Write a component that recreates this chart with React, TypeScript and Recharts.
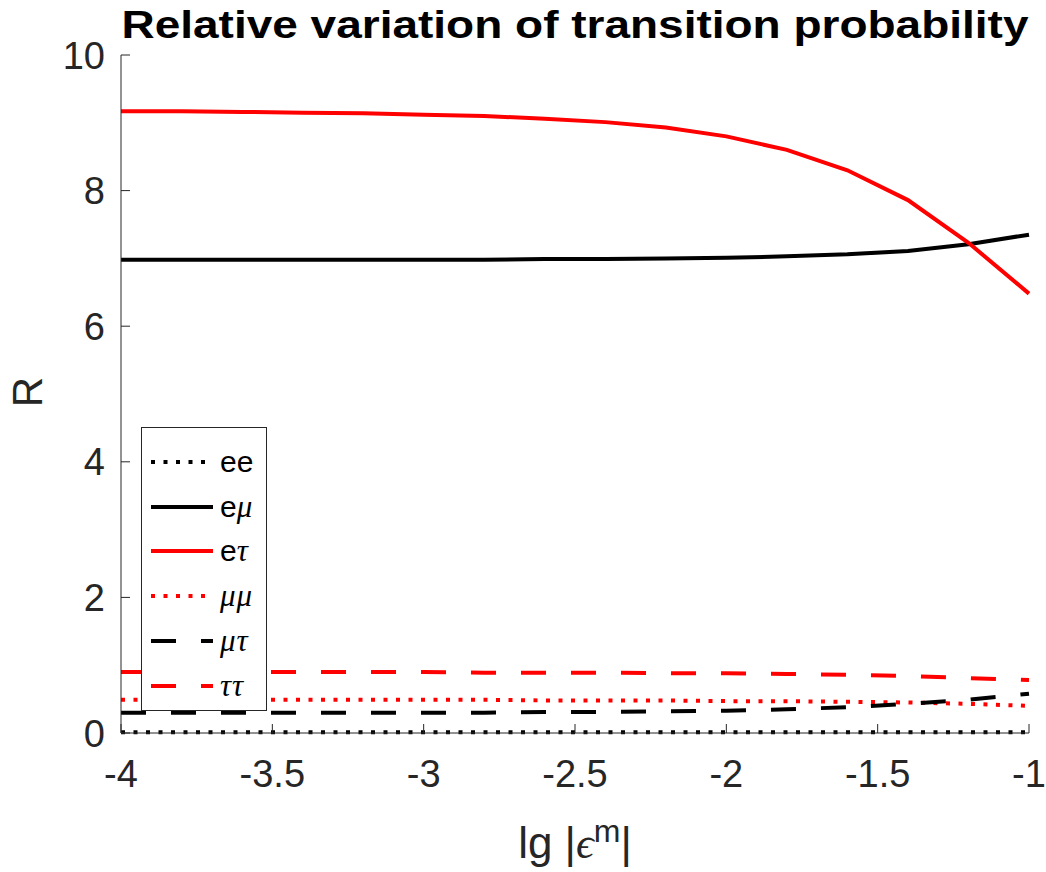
import { LineChart, Line, XAxis, YAxis, Legend } from "recharts";

// lg|eps^m| sample points
const xValues = [-4, -3.8, -3.6, -3.4, -3.2, -3, -2.8, -2.6, -2.4, -2.2, -2, -1.8, -1.6, -1.4, -1.2, -1];

// R for each channel
const ee = [0.01, 0.01, 0.01, 0.01, 0.01, 0.01, 0.01, 0.01, 0.01, 0.01, 0.01, 0.01, 0.01, 0.01, 0.01, 0.01];
const eMu = [6.98, 6.98, 6.98, 6.98, 6.98, 6.98, 6.98, 6.99, 6.99, 7.0, 7.01, 7.03, 7.06, 7.11, 7.21, 7.35];
const eTau = [9.17, 9.17, 9.16, 9.15, 9.14, 9.12, 9.1, 9.06, 9.01, 8.93, 8.8, 8.6, 8.3, 7.86, 7.23, 6.48];
const muMu = [0.49, 0.49, 0.49, 0.49, 0.49, 0.49, 0.49, 0.48, 0.48, 0.48, 0.47, 0.47, 0.46, 0.45, 0.43, 0.4];
const muTau = [0.3, 0.3, 0.3, 0.3, 0.3, 0.3, 0.3, 0.31, 0.31, 0.32, 0.33, 0.35, 0.38, 0.43, 0.49, 0.58];
const tauTau = [0.9, 0.9, 0.9, 0.9, 0.9, 0.9, 0.89, 0.89, 0.89, 0.88, 0.88, 0.87, 0.86, 0.84, 0.81, 0.78];

const xTicks = [-4, -3.5, -3, -2.5, -2, -1.5, -1];
const yTicks = [0, 2, 4, 6, 8, 10];

const DOT = "4 8.5";
const DASH = "25 25";

const series = [
  { key: "ee", pre: "ee", greek: "", color: "#000000", dash: DOT },
  { key: "eMu", pre: "e", greek: "μ", color: "#000000", dash: undefined },
  { key: "eTau", pre: "e", greek: "τ", color: "#ff0000", dash: undefined },
  { key: "muMu", pre: "", greek: "μμ", color: "#ff0000", dash: DOT },
  { key: "muTau", pre: "", greek: "μτ", color: "#000000", dash: DASH },
  { key: "tauTau", pre: "", greek: "ττ", color: "#ff0000", dash: DASH },
];

const data = xValues.map((x, i) => ({
  x,
  ee: ee[i],
  eMu: eMu[i],
  eTau: eTau[i],
  muMu: muMu[i],
  muTau: muTau[i],
  tauTau: tauTau[i],
}));

const SANS = "'Liberation Sans', Arial, Helvetica, sans-serif";
const SERIF = "'Liberation Serif', 'DejaVu Serif', serif";
const AXIS = "#262626";
const TICK_FONT = 38;

const YTick = (props: any) => {
  const { x, y, payload } = props;
  return (
    <g>
      <line x1={x} x2={x + 9} y1={y} y2={y} stroke={AXIS} strokeWidth={1} />
      <text x={x - 16} y={y} dy="0.36em" textAnchor="end" fill={AXIS} fontSize={TICK_FONT} fontFamily={SANS}>
        {payload.value}
      </text>
    </g>
  );
};

const XTick = (props: any) => {
  const { x, y, payload } = props;
  return (
    <g>
      <line x1={x} x2={x} y1={y} y2={y - 9} stroke={AXIS} strokeWidth={1} />
      <text x={x} y={y + 54} textAnchor="middle" fill={AXIS} fontSize={TICK_FONT} fontFamily={SANS}>
        {payload.value}
      </text>
    </g>
  );
};

function LegendBox() {
  return (
    <div
      style={{
        width: 124,
        height: 282,
        border: "1px solid #262626",
        background: "#fff",
        position: "relative",
      }}
    >
      {series.map((s, i) => {
        const cy = 34 + i * 44.7;
        return (
          <div key={s.key} style={{ position: "absolute", left: 0, top: cy - 20, height: 40, width: 124 }}>
            <svg width={72} height={40} style={{ position: "absolute", left: 0, top: 0 }}>
              <line x1={9} x2={71} y1={20} y2={20} stroke={s.color} strokeWidth={4} strokeDasharray={s.dash} />
            </svg>
            <div
              style={{
                position: "absolute",
                left: 78,
                top: 0,
                lineHeight: "40px",
                fontSize: 30,
                fontFamily: SANS,
                color: "#000",
                whiteSpace: "nowrap",
              }}
            >
              {s.pre}
              <span style={{ fontFamily: SERIF, fontStyle: "italic", fontSize: 31, letterSpacing: 1 }}>{s.greek}</span>
            </div>
          </div>
        );
      })}
    </div>
  );
}

export default function App() {
  return (
    <div style={{ position: "absolute", left: 0, top: 0, width: 1046, height: 872, background: "#fff" }}>
      <LineChart
        width={1046}
        height={872}
        data={data}
        margin={{ top: 55, right: 17, bottom: 138, left: 120 }}
      >
        <XAxis
          dataKey="x"
          type="number"
          domain={[-4, -1]}
          ticks={xTicks}
          height={1}
          tickSize={0}
          tickMargin={0}
          tickLine={false}
          stroke={AXIS}
          tick={<XTick />}
          interval={0}
        />
        <YAxis
          type="number"
          domain={[0, 10]}
          ticks={yTicks}
          width={1}
          tickSize={0}
          tickMargin={0}
          tickLine={false}
          stroke={AXIS}
          tick={<YTick />}
          interval={0}
        />
        {series.map((s) => (
          <Line
            key={s.key}
            dataKey={s.key}
            type="linear"
            stroke={s.color}
            strokeWidth={4}
            strokeDasharray={s.dash}
            dot={false}
            activeDot={false}
            isAnimationActive={false}
          />
        ))}
        <Legend
          layout="vertical"
          align="center"
          verticalAlign="middle"
          content={<LegendBox />}
          wrapperStyle={{ left: 141, top: 427, width: 126, height: 284 }}
        />
      </LineChart>
      <div
        style={{
          position: "absolute",
          left: 121,
          width: 908,
          top: 2,
          textAlign: "center",
          fontFamily: SANS,
          fontWeight: "bold",
          fontSize: 38,
          lineHeight: "46px",
          color: "#000",
          whiteSpace: "nowrap",
          transform: "scaleX(1.21)",
        }}
      >
        Relative variation of transition probability
      </div>
      <div
        style={{
          position: "absolute",
          left: 6,
          top: 370,
          width: 44,
          height: 44,
          transform: "rotate(-90deg)",
          textAlign: "center",
          fontFamily: SANS,
          fontSize: 42,
          lineHeight: "44px",
          color: AXIS,
        }}
      >
        R
      </div>
      <div
        style={{
          position: "absolute",
          left: 121,
          width: 908,
          top: 821,
          textAlign: "center",
          fontFamily: SANS,
          fontSize: 44,
          lineHeight: "44px",
          color: AXIS,
          whiteSpace: "nowrap",
        }}
      >
        lg |<span style={{ fontFamily: SERIF, fontStyle: "italic" }}>ϵ</span>
        <sup style={{ fontSize: 32, lineHeight: 0 }}>m</sup>|
      </div>
    </div>
  );
}
